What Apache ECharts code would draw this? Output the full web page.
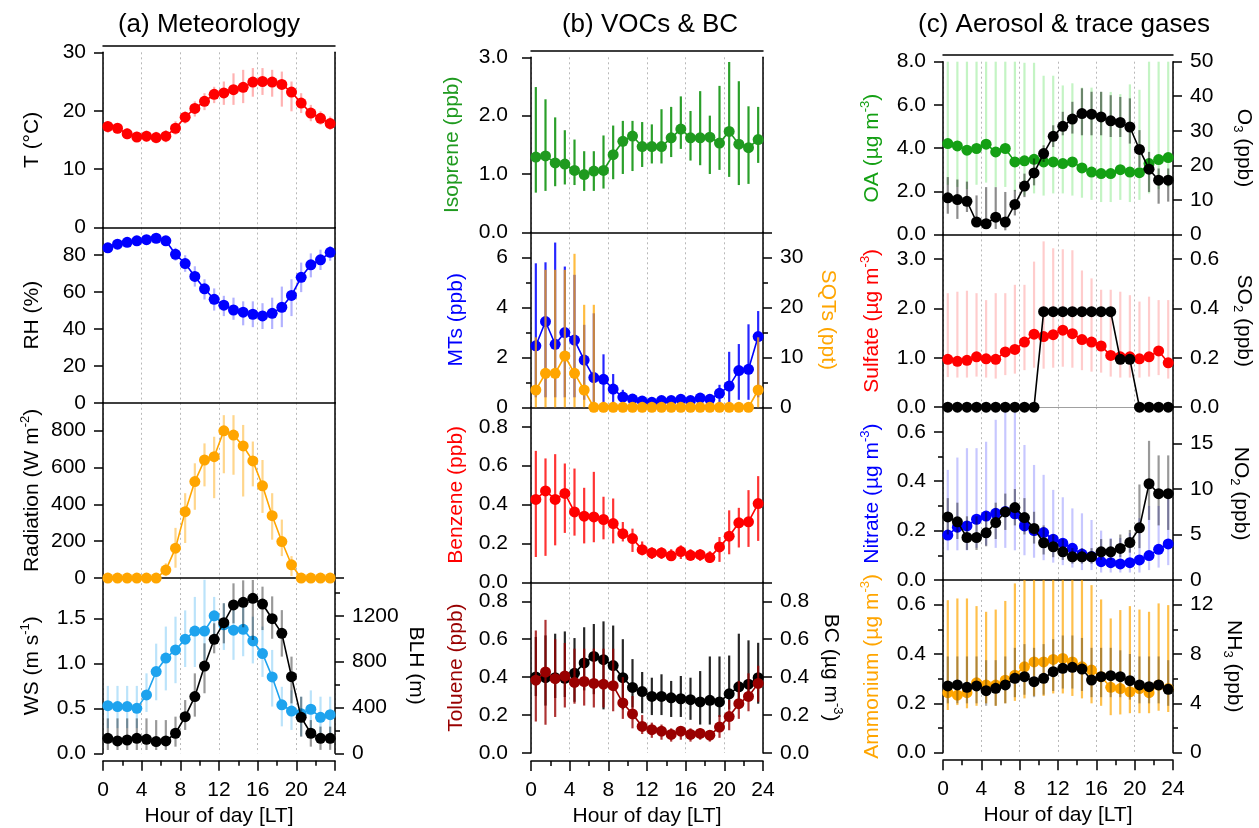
<!DOCTYPE html>
<html>
<head>
<meta charset="UTF-8">
<title>Diurnal cycles</title>
<script src="https://cdn.jsdelivr.net/npm/echarts@6/dist/echarts.min.js"></script>
<style>
  html, body { margin: 0; padding: 0; background: #fff; }
  #main { width: 1259px; height: 828px; }
</style>
</head>
<body>
<div id="main"></div>
<script type="text/javascript">
// hour of day (bin centres)
var hours = [0.5, 1.5, 2.5, 3.5, 4.5, 5.5, 6.5, 7.5, 8.5, 9.5, 10.5, 11.5,
             12.5, 13.5, 14.5, 15.5, 16.5, 17.5, 18.5, 19.5, 20.5, 21.5, 22.5, 23.5];

// (a) meteorology
var temp   = [17.3, 17.0, 16.05, 15.5, 15.65, 15.4, 15.65, 17.0, 18.9, 20.4, 21.6, 22.8, 23.05, 23.6, 24.0, 24.9, 25.0, 24.9, 24.5, 23.2, 21.3, 19.6, 18.7, 17.8];
var tempLo = [16.2, 16.1, 15.1, 14.7, 14.7, 14.4, 14.6, 15.9, 17.8, 19.0, 20.1, 21.3, 21.0, 21.0, 21.3, 22.4, 22.7, 22.4, 20.7, 19.9, 19.6, 18.2, 17.6, 16.7];
var tempHi = [18.2, 17.9, 17.0, 16.4, 16.6, 16.4, 16.7, 18.2, 19.9, 21.6, 23.0, 24.1, 25.0, 26.4, 27.0, 27.3, 27.3, 27.0, 26.7, 25.0, 23.0, 21.0, 19.9, 19.0];

var rh   = [84.0, 86.0, 87.0, 87.8, 88.4, 89.2, 87.8, 80.5, 75.5, 68.5, 61.8, 56.1, 52.9, 50.3, 49.1, 48.0, 47.1, 48.5, 51.8, 58.2, 68.0, 74.8, 77.5, 81.6];
var rhLo = [82, 84, 85, 86, 86.5, 87, 85.5, 77, 71, 63, 56, 50, 47, 45, 42, 41, 40, 40, 41, 47, 60, 68, 72, 77];
var rhHi = [86, 88, 89, 90, 90.5, 91, 90, 84, 80, 74, 67, 62, 58, 57, 55, 55, 54, 57, 63, 67, 76, 81, 83, 85];

var rad   = [0, 0, 0, 0, 0, 0, 43, 162, 360, 523, 640, 658, 798, 775, 716, 635, 500, 338, 198, 72, 0, 0, 0, 0];
var radLo = [0, 0, 0, 0, 0, 0, 10, 56, 190, 370, 497, 433, 568, 560, 442, 497, 353, 208, 119, 11, 0, 0, 0, 0];
var radHi = [0, 0, 0, 0, 0, 0, 80, 272, 460, 622, 730, 766, 883, 883, 830, 740, 640, 460, 317, 119, 0, 0, 0, 0];

var ws   = [0.53, 0.52, 0.52, 0.50, 0.65, 0.91, 1.06, 1.15, 1.27, 1.36, 1.36, 1.53, 1.43, 1.37, 1.38, 1.25, 1.11, 0.85, 0.54, 0.47, 0.44, 0.49, 0.40, 0.43];
var wsLo = [0.28, 0.28, 0.28, 0.28, 0.46, 0.59, 0.70, 0.78, 0.96, 0.96, 1.04, 1.22, 1.15, 1.04, 1.08, 1.00, 0.85, 0.52, 0.30, 0.26, 0.19, 0.26, 0.19, 0.22];
var wsHi = [0.75, 0.75, 0.75, 0.75, 0.89, 1.22, 1.41, 1.52, 1.59, 1.74, 1.93, 1.74, 1.67, 1.67, 1.63, 1.52, 1.41, 1.15, 0.74, 0.70, 0.63, 0.70, 0.63, 0.63];

var blh   = [131, 108, 116, 131, 122, 102, 108, 175, 320, 495, 762, 995, 1140, 1295, 1318, 1353, 1303, 1175, 1047, 669, 314, 175, 131, 131];
var blhLo = [29, 29, 29, 29, 29, 29, 29, 58, 204, 320, 524, 873, 960, 1135, 1100, 989, 1076, 1000, 844, 436, 145, 58, 30, 30];
var blhHi = [305, 305, 305, 305, 305, 290, 290, 320, 465, 698, 960, 1135, 1310, 1484, 1510, 1513, 1455, 1370, 1250, 844, 494, 290, 233, 233];

// (b) VOCs & BC
var iso   = [1.29, 1.31, 1.19, 1.17, 1.06, 0.99, 1.05, 1.06, 1.33, 1.56, 1.65, 1.47, 1.47, 1.47, 1.62, 1.77, 1.62, 1.62, 1.63, 1.53, 1.73, 1.51, 1.45, 1.59];
var isoLo = [0.68, 0.71, 0.79, 0.82, 0.81, 0.71, 0.71, 0.75, 0.91, 1.00, 1.05, 1.12, 1.18, 1.18, 1.29, 1.43, 1.23, 1.15, 1.00, 1.07, 0.95, 0.81, 0.83, 1.19];
var isoHi = [2.49, 2.28, 1.97, 1.75, 1.59, 1.39, 1.39, 1.66, 1.83, 1.91, 1.91, 1.89, 1.85, 2.11, 2.15, 2.33, 2.08, 2.42, 2.00, 2.51, 2.92, 2.59, 2.16, 2.15];

var mts   = [2.46, 3.43, 2.52, 2.99, 2.69, 1.89, 1.19, 1.12, 0.73, 0.41, 0.33, 0.25, 0.20, 0.27, 0.27, 0.32, 0.27, 0.37, 0.32, 0.56, 0.85, 1.47, 1.52, 2.83];
var mtsLo = [0.4, 0.4, 0.4, 0.4, 0.4, 0.3, 0.2, 0.2, 0.2, 0.1, 0.1, 0.1, 0.05, 0.05, 0.05, 0.05, 0.05, 0.05, 0.05, 0.1, 0.2, 0.3, 0.3, 0.4];
var mtsHi = [5.76, 5.80, 6.59, 5.63, 5.30, 3.30, 3.76, 2.12, 1.33, 0.7, 0.5, 0.4, 0.35, 0.4, 0.4, 0.45, 0.4, 0.5, 0.5, 0.9, 2.22, 2.53, 3.32, 3.85];

var sqt   = [3.46, 6.8, 6.8, 10.26, 6.8, 3.46, 0, 0, 0, 0, 0, 0, 0, 0, 0, 0, 0, 0, 0, 0, 0, 0, 0, 3.46];
var sqtLo = [0, 0, 0, 0, 0, 0, 0, 0, 0, 0, 0, 0, 0, 0, 0, 0, 0, 0, 0, 0, 0, 0, 0, 0];
var sqtHi = [14, 27.5, 27.5, 27.5, 30.7, 20.5, 20.5, 0.3, 0.3, 0.3, 0.3, 0.3, 0.3, 0.3, 0.3, 0.3, 0.3, 0.3, 0.3, 0.3, 0.3, 0.3, 0.3, 14];

var benz   = [0.426, 0.47, 0.426, 0.457, 0.362, 0.34, 0.336, 0.323, 0.302, 0.25, 0.225, 0.168, 0.151, 0.151, 0.136, 0.158, 0.139, 0.142, 0.127, 0.182, 0.237, 0.306, 0.311, 0.405];
var benzLo = [0.13, 0.136, 0.19, 0.254, 0.24, 0.2, 0.206, 0.221, 0.2, 0.21, 0.156, 0.139, 0.12, 0.12, 0.11, 0.12, 0.11, 0.11, 0.1, 0.105, 0.144, 0.179, 0.182, 0.213];
var benzHi = [0.676, 0.637, 0.659, 0.611, 0.585, 0.486, 0.568, 0.44, 0.431, 0.31, 0.276, 0.21, 0.18, 0.18, 0.17, 0.19, 0.17, 0.17, 0.16, 0.233, 0.37, 0.383, 0.474, 0.546];

var tol   = [0.384, 0.427, 0.392, 0.406, 0.372, 0.377, 0.367, 0.363, 0.355, 0.264, 0.206, 0.14, 0.123, 0.115, 0.098, 0.115, 0.098, 0.103, 0.094, 0.137, 0.192, 0.26, 0.298, 0.367];
var tolLo = [0.166, 0.149, 0.19, 0.24, 0.26, 0.25, 0.24, 0.24, 0.22, 0.18, 0.13, 0.1, 0.08, 0.07, 0.06, 0.07, 0.06, 0.07, 0.06, 0.08, 0.12, 0.18, 0.22, 0.27];
var tolHi = [0.646, 0.702, 0.6, 0.58, 0.55, 0.55, 0.55, 0.55, 0.55, 0.4, 0.3, 0.2, 0.16, 0.15, 0.13, 0.14, 0.13, 0.13, 0.12, 0.2, 0.28, 0.38, 0.42, 0.46];

var bc   = [0.401, 0.397, 0.397, 0.394, 0.42, 0.475, 0.509, 0.492, 0.461, 0.397, 0.346, 0.324, 0.298, 0.298, 0.291, 0.286, 0.281, 0.269, 0.278, 0.269, 0.312, 0.349, 0.363, 0.397];
var bcLo = [0.30, 0.25, 0.29, 0.295, 0.27, 0.33, 0.31, 0.23, 0.33, 0.23, 0.24, 0.21, 0.2, 0.2, 0.19, 0.19, 0.175, 0.15, 0.15, 0.19, 0.23, 0.28, 0.3, 0.26];
var bcHi = [0.612, 0.62, 0.629, 0.641, 0.606, 0.663, 0.68, 0.694, 0.672, 0.6, 0.495, 0.427, 0.397, 0.415, 0.38, 0.406, 0.397, 0.432, 0.509, 0.509, 0.514, 0.629, 0.594, 0.581];

// (c) aerosol & trace gases
var oa   = [4.21, 4.10, 3.90, 3.98, 4.18, 3.82, 3.98, 3.36, 3.41, 3.48, 3.36, 3.36, 3.28, 3.36, 3.08, 2.89, 2.82, 2.82, 3.00, 2.89, 2.86, 3.28, 3.47, 3.56];
var oaLo = [2.3, 2.2, 2.1, 2.3, 2.4, 2.2, 2.2, 2.0, 1.8, 1.9, 1.8, 1.9, 1.9, 1.8, 1.7, 1.6, 1.5, 1.5, 1.6, 1.5, 1.6, 1.9, 2.1, 2.2];
var oaHi = [9, 9, 9, 9, 9, 9, 9, 9, 7.95, 7.95, 7.35, 7.35, 6.9, 7.0, 6.8, 6.8, 6.6, 6.6, 6.5, 6.95, 6.7, 9, 9, 9];

var o3   = [10.6, 10.1, 9.6, 3.6, 3.1, 5.0, 3.6, 8.7, 14.0, 17.8, 23.4, 28.4, 31.3, 33.4, 35.0, 34.8, 34.0, 32.9, 32.4, 31.1, 24.6, 18.9, 15.7, 15.7];
var o3Lo = [6.0, 4.5, 6.5, 3.1, 1.6, 1.6, 1.2, 5.5, 10.8, 14.2, 21.0, 25.3, 28.7, 29.2, 28.7, 28.7, 28.7, 28.2, 28.2, 26.3, 19.5, 12.3, 8.9, 9.5];
var o3Hi = [16.6, 15.9, 15.3, 11.3, 13.7, 13.7, 12.3, 12.9, 17.6, 22.0, 25.8, 31.6, 35.5, 38.4, 42.3, 41.3, 41.3, 40.3, 39.8, 39.4, 30.2, 23.9, 19.1, 19.1];

var so4   = [0.97, 0.93, 0.95, 1.02, 0.98, 0.97, 1.12, 1.17, 1.32, 1.48, 1.43, 1.47, 1.56, 1.49, 1.37, 1.32, 1.24, 1.05, 1.02, 1.02, 0.98, 1.02, 1.14, 0.90];
var so4Lo = [0.61, 0.6, 0.6, 0.62, 0.6, 0.58, 0.65, 0.68, 0.75, 0.8, 0.78, 0.8, 0.82, 0.8, 0.75, 0.72, 0.7, 0.62, 0.6, 0.6, 0.6, 0.62, 0.65, 0.58];
var so4Hi = [2.31, 2.34, 2.36, 2.31, 2.17, 2.31, 2.31, 2.48, 2.48, 2.95, 3.36, 3.22, 3.20, 3.18, 2.77, 2.61, 2.38, 2.38, 2.34, 2.27, 2.14, 2.24, 2.17, 2.17];

var so2 = [0, 0, 0, 0, 0, 0, 0, 0, 0, 0, 0.387, 0.387, 0.387, 0.387, 0.387, 0.387, 0.387, 0.387, 0.194, 0.194, 0, 0, 0, 0];

var no3   = [0.182, 0.214, 0.219, 0.246, 0.259, 0.27, 0.277, 0.268, 0.219, 0.2, 0.192, 0.165, 0.149, 0.128, 0.105, 0.095, 0.074, 0.07, 0.065, 0.07, 0.081, 0.099, 0.124, 0.146];
var no3Lo = [0.12, 0.12, 0.12, 0.13, 0.14, 0.13, 0.13, 0.12, 0.1, 0.09, 0.08, 0.07, 0.06, 0.05, 0.04, 0.04, 0.03, 0.03, 0.03, 0.03, 0.03, 0.04, 0.05, 0.06];
var no3Hi = [0.446, 0.496, 0.534, 0.534, 0.56, 0.649, 0.69, 0.68, 0.547, 0.466, 0.426, 0.365, 0.335, 0.29, 0.27, 0.243, 0.2, 0.17, 0.17, 0.19, 0.25, 0.3, 0.3, 0.33];

var no2   = [6.93, 6.39, 4.67, 4.67, 5.18, 6.31, 7.48, 7.96, 6.86, 5.66, 4.09, 3.65, 3.10, 2.55, 2.55, 2.55, 3.10, 3.10, 3.47, 4.12, 5.73, 10.58, 9.49, 9.49];
var no2Lo = [5, 4.5, 3.3, 3.3, 3.7, 4.5, 5.5, 6, 5, 4, 2.8, 2.5, 2.2, 1.8, 1.8, 1.8, 2.2, 2.2, 2.5, 3, 3.5, 6.6, 6, 5.5];
var no2Hi = [9, 8.5, 7, 7, 7.5, 8.5, 9.5, 10, 9, 7.5, 6, 5, 4.5, 3.5, 3.5, 3.5, 4.5, 4.5, 5, 5.5, 10.5, 15.3, 13.7, 13.7];

var nh4   = [0.243, 0.233, 0.243, 0.283, 0.274, 0.274, 0.294, 0.314, 0.348, 0.368, 0.368, 0.378, 0.382, 0.368, 0.348, 0.335, 0.308, 0.265, 0.26, 0.247, 0.26, 0.243, 0.274, 0.26];
var nh4Lo = [0.173, 0.193, 0.18, 0.19, 0.2, 0.19, 0.2, 0.21, 0.22, 0.23, 0.23, 0.24, 0.24, 0.23, 0.22, 0.2, 0.19, 0.152, 0.155, 0.16, 0.16, 0.16, 0.17, 0.165];
var nh4Hi = [0.618, 0.625, 0.625, 0.594, 0.571, 0.58, 0.615, 0.686, 0.75, 0.75, 0.75, 0.75, 0.75, 0.75, 0.75, 0.679, 0.621, 0.544, 0.578, 0.594, 0.58, 0.571, 0.605, 0.598];

var nh3   = [5.41, 5.49, 5.30, 5.41, 5.03, 5.22, 5.49, 6.03, 6.16, 5.76, 6.03, 6.57, 6.84, 6.92, 6.78, 5.89, 6.16, 6.24, 6.16, 5.84, 5.49, 5.35, 5.49, 5.14];
var nh3Lo = [4, 4, 4, 4, 3.8, 3.8, 4, 4.5, 4.7, 4.5, 4.7, 5, 5.2, 5.2, 5, 4.5, 4.5, 4.5, 4.5, 4.3, 4, 4, 4, 3.8];
var nh3Hi = [7.8, 7.8, 7.8, 7.8, 7.5, 7.5, 7.8, 8.5, 8.8, 8.5, 8.8, 9.2, 9.5, 9.5, 9.3, 8.5, 8.5, 8.5, 8.3, 8.0, 7.8, 7.8, 7.8, 7.5];

var FONT = 'Liberation Sans, Arial, sans-serif';
var ORANGE = '#ffa500';

var cols = [
  { left: 103, width: 232, top: 52.3, h: 175.25, xOff: 7.4, lm: 17, title: '(a) Meteorology', tx: 209 },
  { left: 531, width: 232, top: 57.3, h: 175,    xOff: 8,   lm: 23, title: '(b) VOCs & BC', tx: 650 },
  { left: 943, width: 230, top: 61.7, h: 172.75, xOff: 7.5, lm: 17, title: '(c) Aerosol & trace gases', tx: 1064 }
];

var panels = [
  { col: 0, row: 0,
    L: { max: 30, step: 10, dec: 0, name: '{t|T (°C)}', color: '#000', gap: 58 },
    S: [{ v: temp, lo: tempLo, hi: tempHi, c: '#ff0000', e: 'rgba(255,0,0,0.3)' }] },
  { col: 0, row: 1,
    L: { max: 95, step: 20, dec: 0, name: '{t|RH (%)}', color: '#000', gap: 58 },
    S: [{ v: rh, lo: rhLo, hi: rhHi, c: '#0000ff', e: 'rgba(0,0,255,0.3)' }] },
  { col: 0, row: 2,
    L: { max: 950, step: 200, dec: 0, name: '{t|Radiation (W m}{s|-2}{t|)}', color: '#000', gap: 58 },
    S: [{ v: rad, lo: radLo, hi: radHi, c: ORANGE, e: 'rgba(255,165,0,0.45)' }] },
  { col: 0, row: 3,
    L: { max: 1.95, step: 0.5, dec: 1, name: '{t|WS (m s}{s|-1}{t|)}', color: '#000', gap: 58 },
    R: { max: 1530, step: 400, minor: 200, dec: 0, name: '{t|BLH (m)}', color: '#000', gap: 68 },
    S: [{ v: ws, lo: wsLo, hi: wsHi, c: '#1ea3ee', e: 'rgba(30,163,238,0.3)' },
        { v: blh, lo: blhLo, hi: blhHi, c: '#000', e: 'rgba(0,0,0,0.4)', right: true }] },

  { col: 1, row: 0,
    L: { max: 3, step: 1, dec: 1, name: '{t|Isoprene (ppb)}', color: '#1f9a1f', gap: 66 },
    S: [{ v: iso, lo: isoLo, hi: isoHi, c: '#1f9a1f', e: 'rgba(31,154,31,0.95)' }] },
  { col: 1, row: 1,
    L: { max: 7, step: 2, minor: 1, dec: 0, name: '{t|MTs (ppb)}', color: '#0000ff', gap: 62 },
    R: { max: 35, step: 10, minor: 5, dec: 0, name: '{t|SQTs (ppt)}', color: ORANGE, gap: 52 },
    S: [{ v: mts, lo: mtsLo, hi: mtsHi, c: '#0000ff', e: 'rgba(0,0,255,0.85)' },
        { v: sqt, lo: sqtLo, hi: sqtHi, c: ORANGE, e: 'rgba(255,165,0,0.75)', right: true }] },
  { col: 1, row: 2,
    L: { max: 0.9, step: 0.2, dec: 1, name: '{t|Benzene (ppb)}', color: '#ff0000', gap: 62 },
    S: [{ v: benz, lo: benzLo, hi: benzHi, c: '#ff0000', e: 'rgba(255,0,0,0.8)' }] },
  { col: 1, row: 3,
    L: { max: 0.9, step: 0.2, dec: 1, name: '{t|Toluene (ppb)}', color: '#990000', gap: 62 },
    R: { max: 0.9, step: 0.2, dec: 1, name: '{t|BC (µg m}{s|-3}{t|)}', color: '#000', gap: 55 },
    S: [{ v: bc, lo: bcLo, hi: bcHi, c: '#000', e: 'rgba(0,0,0,0.85)', right: true },
        { v: tol, lo: tolLo, hi: tolHi, c: '#990000', e: 'rgba(153,0,0,0.8)' }] },

  { col: 2, row: 0,
    L: { max: 8, step: 2, dec: 1, name: '{t|OA (µg m}{s|-3}{t|)}', color: '#14a014', gap: 58 },
    R: { max: 50, step: 10, dec: 0, name: '{t|O}{b|3}{t| (ppb)}', color: '#000', gap: 58 },
    S: [{ v: oa, lo: oaLo, hi: oaHi, c: '#14a014', e: 'rgba(60,220,60,0.3)' },
        { v: o3, lo: o3Lo, hi: o3Hi, c: '#000', e: 'rgba(0,0,0,0.45)', right: true }] },
  { col: 2, row: 1, xLine: '#a0a0a0',
    L: { max: 3.5, step: 1, dec: 1, name: '{t|Sulfate (µg m}{s|-3}{t|)}', color: '#ff0000', gap: 58 },
    R: { max: 0.7, step: 0.2, dec: 1, name: '{t|SO}{b|2}{t| (ppb)}', color: '#000', gap: 58 },
    S: [{ v: so4, lo: so4Lo, hi: so4Hi, c: '#ff0000', e: 'rgba(255,0,0,0.2)' },
        { v: so2, c: '#000', right: true }] },
  { col: 2, row: 2,
    L: { max: 0.7, step: 0.2, minor: 0.1, dec: 1, name: '{t|Nitrate (µg m}{s|-3}{t|)}', color: '#0000ff', gap: 58 },
    R: { max: 19, step: 5, dec: 0, name: '{t|NO}{b|2}{t| (ppb)}', color: '#000', gap: 55 },
    S: [{ v: no3, lo: no3Lo, hi: no3Hi, c: '#0000ff', e: 'rgba(0,0,255,0.22)' },
        { v: no2, lo: no2Lo, hi: no2Hi, c: '#000', e: 'rgba(0,0,0,0.4)', right: true }] },
  { col: 2, row: 3,
    L: { max: 0.7, step: 0.2, minor: 0.1, dec: 1, name: '{t|Ammonium (µg m}{s|-3}{t|)}', color: ORANGE, gap: 58 },
    R: { max: 14, step: 4, minor: 2, dec: 0, name: '{t|NH}{b|3}{t| (ppb)}', color: '#000', gap: 48 },
    S: [{ v: nh4, lo: nh4Lo, hi: nh4Hi, c: ORANGE, e: 'rgba(255,165,0,0.7)' },
        { v: nh3, lo: nh3Lo, hi: nh3Hi, c: '#000', e: 'rgba(0,0,0,0.3)', right: true }] }
];

function tickFmt(step, dec) {
  return function (v) {
    var k = v / step;
    return Math.abs(k - Math.round(k)) < 1e-6 ? v.toFixed(dec) : '';
  };
}

function richFor(color) {
  return {
    t: { fontSize: 21, fontFamily: FONT, color: color, lineHeight: 26 },
    s: { fontSize: 13, fontFamily: FONT, color: color, verticalAlign: 'top', lineHeight: 26 },
    b: { fontSize: 13, fontFamily: FONT, color: color, verticalAlign: 'bottom', lineHeight: 20 }
  };
}

var grids = [], xAxes = [], yAxes = [], series = [], graphics = [];

function addY(gi, d, pos, margin) {
  var idx = yAxes.length;
  yAxes.push({
    gridIndex: gi, type: 'value', position: pos, min: 0, max: d.max, interval: d.step,
    axisLine: { show: true, onZero: false, lineStyle: { color: '#000', width: 1.5 } },
    axisTick: { show: true, length: 9, lineStyle: { color: '#000', width: 1.5 } },
    axisLabel: { show: true, fontSize: 21, fontFamily: FONT, color: '#000', margin: margin,
                 formatter: tickFmt(d.step, d.dec) },
    splitLine: { show: false },
    name: d.name, nameLocation: 'middle', nameGap: d.gap,
    nameRotate: pos === 'right' ? -90 : 90,
    nameTextStyle: { rich: richFor(d.color) }
  });
  if (d.minor) {
    yAxes.push({
      gridIndex: gi, type: 'value', position: pos, min: 0, max: d.max, interval: d.minor,
      axisLine: { show: false, onZero: false }, axisLabel: { show: false }, splitLine: { show: false },
      axisTick: { show: true, length: 5, lineStyle: { color: '#000', width: 1.5 } }
    });
  }
  return idx;
}

function errBars(xi, yi, lo, hi, color, ymax, z) {
  return {
    type: 'custom', xAxisIndex: xi, yAxisIndex: yi, z: z, silent: true,
    encode: { x: 0, y: [1, 2] },
    data: hours.map(function (h, i) { return [h, lo[i], hi[i]]; }),
    renderItem: function (params, api) {
      var x = api.value(0);
      var a = api.coord([x, Math.max(0, api.value(1))]);
      var b = api.coord([x, Math.min(ymax, api.value(2))]);
      return { type: 'line', shape: { x1: a[0], y1: a[1], x2: b[0], y2: b[1] },
               style: { stroke: color, lineWidth: 2.2 } };
    }
  };
}

panels.forEach(function (p) {
  var c = cols[p.col];
  var gi = grids.length;
  var bottom = p.row === 3;
  grids.push({ left: c.left, top: c.top + p.row * c.h, width: c.width, height: c.h });

  var xi = xAxes.length;
  xAxes.push({
    gridIndex: gi, type: 'value', min: 0, max: 24, interval: 4, position: 'bottom',
    offset: bottom ? c.xOff : 0,
    axisLine: { show: true, onZero: false,
                lineStyle: { color: p.xLine || '#000', width: p.xLine ? 1 : 1.5 } },
    axisTick: { show: bottom, length: 10, lineStyle: { color: '#000', width: 1.5 } },
    minorTick: { show: bottom, splitNumber: 2, length: 5, lineStyle: { color: '#000', width: 1.5 } },
    axisLabel: { show: bottom, fontSize: 21, fontFamily: FONT, color: '#000', margin: 19 },
    splitLine: { show: true, lineStyle: { color: '#b8b8b8', type: [2, 3], width: 1 } },
    name: bottom ? 'Hour of day [LT]' : '', nameLocation: 'middle', nameGap: 45,
    nameTextStyle: { fontSize: 21, fontFamily: FONT, color: '#000' }
  });
  if (p.row === 0) {
    // detached frame line above the top panel
    xAxes.push({
      gridIndex: gi, type: 'value', min: 0, max: 24, position: 'top', offset: 7,
      axisLine: { show: true, onZero: false, lineStyle: { color: '#000', width: 1.5 } },
      axisTick: { show: false }, axisLabel: { show: false }, splitLine: { show: false }
    });
  }

  var li = addY(gi, p.L, 'left', c.lm);
  var ri;
  if (p.R) {
    ri = addY(gi, p.R, 'right', 17);
  } else {
    yAxes.push({
      gridIndex: gi, type: 'value', position: 'right', min: 0, max: 1,
      axisLine: { show: true, onZero: false, lineStyle: { color: '#000', width: 1.5 } },
      axisTick: { show: false }, axisLabel: { show: false }, splitLine: { show: false }
    });
  }

  p.S.forEach(function (s, k) {
    var yi = s.right ? ri : li;
    var ymax = s.right ? p.R.max : p.L.max;
    if (s.lo) series.push(errBars(xi, yi, s.lo, s.hi, s.e, ymax, 3 + k * 2));
    series.push({
      type: 'line', xAxisIndex: xi, yAxisIndex: yi, z: 4 + k * 2,
      data: hours.map(function (h, i) { return [h, s.v[i]]; }),
      symbol: 'circle', symbolSize: 11, showSymbol: true,
      lineStyle: { color: s.c, width: 1.6 }, itemStyle: { color: s.c },
      emphasis: { disabled: true }, silent: true
    });
  });
});

cols.forEach(function (c) {
  graphics.push({
    type: 'text', x: c.tx, y: 25,
    style: { text: c.title, fill: '#000', font: '26px ' + FONT, align: 'center', verticalAlign: 'middle' }
  });
});

var myChart = echarts.init(document.getElementById('main'));
myChart.setOption({
  animation: false,
  backgroundColor: '#fff',
  textStyle: { fontFamily: FONT },
  grid: grids,
  xAxis: xAxes,
  yAxis: yAxes,
  series: series,
  graphic: graphics
});
</script>
</body>
</html>
